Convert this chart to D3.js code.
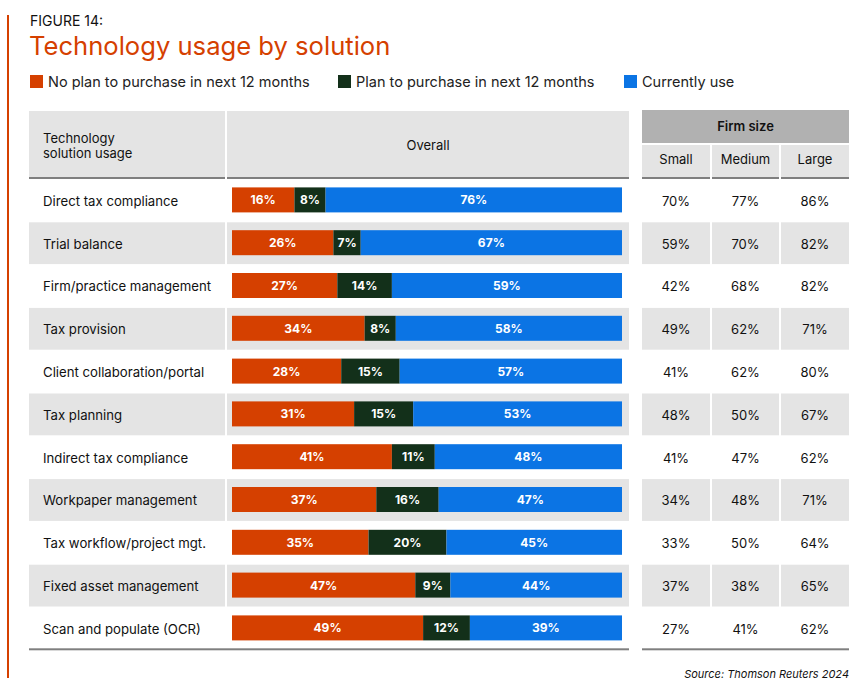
<!DOCTYPE html>
<html>
<head>
<meta charset="utf-8">
<script src="https://cdn.jsdelivr.net/npm/d3@7"></script>
<style>
  body { margin: 0; background: #fff; }
  svg text { font-family: Inter, "Noto Sans", sans-serif; }
</style>
</head>
<body>
<div id="chart"></div>
<script>
// data
const solutions = ["Direct tax compliance", "Trial balance", "Firm/practice management",
  "Tax provision", "Client collaboration/portal", "Tax planning", "Indirect tax compliance",
  "Workpaper management", "Tax workflow/project mgt.", "Fixed asset management",
  "Scan and populate (OCR)"];
const noPlan = [16, 26, 27, 34, 28, 31, 41, 37, 35, 47, 49];
const planTo = [8, 7, 14, 8, 15, 15, 11, 16, 20, 9, 12];
const currentlyUse = [76, 67, 59, 58, 57, 53, 48, 47, 45, 44, 39];
const sizes = ["Small", "Medium", "Large"];
const small = [70, 59, 42, 49, 41, 48, 41, 34, 33, 37, 27];
const medium = [77, 70, 68, 62, 62, 50, 47, 48, 50, 38, 41];
const large = [86, 82, 82, 71, 80, 67, 62, 71, 64, 65, 62];
const seriesNames = ["No plan to purchase in next 12 months", "Plan to purchase in next 12 months", "Currently use"];

const colors = ["#d54000", "#13301a", "#0b74e4"];
const grey = "#e4e4e4", darkGrey = "#b1b1b1", rule = "#7f7f7f";

const W = 868, H = 695;
const svg = d3.select("#chart").append("svg").attr("width", W).attr("height", H);

// side accent + titles
svg.append("rect").attr("x", 7).attr("y", 15).attr("width", 2).attr("height", 663).attr("fill", "#d54000");
svg.append("text").attr("x", 30).attr("y", 26).attr("font-size", 14).attr("fill", "#111").text("FIGURE 14:");
svg.append("text").attr("x", 29).attr("y", 55).attr("font-size", 25.6).attr("fill", "#d54000").text("Technology usage by solution");

// legend
const legendX = [30, 338, 624];
const legend = svg.append("g").selectAll("g").data(seriesNames).join("g")
  .attr("transform", (d, i) => `translate(${legendX[i]},75)`);
legend.append("rect").attr("width", 13).attr("height", 13).attr("fill", (d, i) => colors[i]);
legend.append("text").attr("x", 18).attr("y", 12).attr("font-size", 14.5).attr("fill", "#222").text(d => d);

// table geometry
const rowTop = 178.5, rowH = 42.8;
const y = d3.scaleBand().domain(solutions).range([rowTop, rowTop + rowH * solutions.length]);
const labelCol = [29, 225], overallCol = [227, 629];
const firmCols = [[642, 710], [712, 779], [781, 849]];
const barX = d3.scaleLinear().range([232, 622]);

// headers
svg.append("rect").attr("x", labelCol[0]).attr("y", 111).attr("width", labelCol[1] - labelCol[0]).attr("height", 67).attr("fill", grey);
svg.append("rect").attr("x", overallCol[0]).attr("y", 111).attr("width", overallCol[1] - overallCol[0]).attr("height", 67).attr("fill", grey);
svg.append("rect").attr("x", 642).attr("y", 110).attr("width", 207).attr("height", 33).attr("fill", darkGrey);
firmCols.forEach(c => svg.append("rect").attr("x", c[0]).attr("y", 145).attr("width", c[1] - c[0]).attr("height", 33).attr("fill", grey));
[labelCol, overallCol].concat(firmCols).forEach(c =>
  svg.append("rect").attr("x", c[0]).attr("y", 177).attr("width", c[1] - c[0]).attr("height", 2).attr("fill", rule));

const hdr = svg.append("g").attr("font-size", 13).attr("fill", "#111");
hdr.append("text").attr("x", 43).attr("y", 143).text("Technology");
hdr.append("text").attr("x", 43).attr("y", 158).text("solution usage");
hdr.append("text").attr("x", (overallCol[0] + overallCol[1]) / 2).attr("y", 150).attr("text-anchor", "middle").text("Overall");
hdr.append("text").attr("x", 745.5).attr("y", 131).attr("text-anchor", "middle").attr("font-weight", 600).text("Firm size");
hdr.selectAll(".sz").data(sizes).join("text").attr("class", "sz")
  .attr("x", (d, i) => (firmCols[i][0] + firmCols[i][1]) / 2).attr("y", 164)
  .attr("text-anchor", "middle").text(d => d);

// rows
const rows = svg.append("g").selectAll("g").data(solutions).join("g")
  .attr("transform", d => `translate(0,${y(d)})`);

rows.filter((d, i) => i % 2 === 1).each(function () {
  const g = d3.select(this);
  [labelCol, overallCol].concat(firmCols).forEach(c =>
    g.append("rect").attr("x", c[0]).attr("y", 1).attr("width", c[1] - c[0]).attr("height", rowH - 1).attr("fill", grey));
});

rows.append("text").attr("x", 43).attr("y", rowH / 2 + 6).attr("font-size", 13.2).attr("fill", "#111").text(d => d);

rows.each(function (d, i) {
  const g = d3.select(this);
  const vals = [noPlan[i], planTo[i], currentlyUse[i]];
  const total = d3.sum(vals);
  barX.domain([0, total]);
  let acc = 0;
  vals.forEach((v, k) => {
    const x0 = barX(acc), x1 = barX(acc + v);
    g.append("rect").attr("x", x0).attr("y", rowH / 2 - 12.5).attr("width", x1 - x0).attr("height", 25).attr("fill", colors[k]);
    g.append("text").attr("x", (x0 + x1) / 2).attr("y", rowH / 2 + 4.5).attr("text-anchor", "middle")
      .attr("font-size", 12).attr("font-weight", 700).attr("fill", "#fff").text(v + "%");
    acc += v;
  });
  [small[i], medium[i], large[i]].forEach((v, k) => {
    g.append("text").attr("x", (firmCols[k][0] + firmCols[k][1]) / 2).attr("y", rowH / 2 + 6)
      .attr("text-anchor", "middle").attr("font-size", 13).attr("fill", "#111").text(v + "%");
  });
});

// bottom rules
const bottom = rowTop + rowH * solutions.length;
svg.append("rect").attr("x", 29).attr("y", bottom - 1).attr("width", 600).attr("height", 2).attr("fill", rule);
svg.append("rect").attr("x", 642).attr("y", bottom - 1).attr("width", 207).attr("height", 2).attr("fill", rule);

svg.append("text").attr("x", 849).attr("y", 678).attr("text-anchor", "end").attr("font-size", 11)
  .attr("font-style", "italic").attr("fill", "#111").text("Source: Thomson Reuters 2024");
</script>
</body>
</html>
